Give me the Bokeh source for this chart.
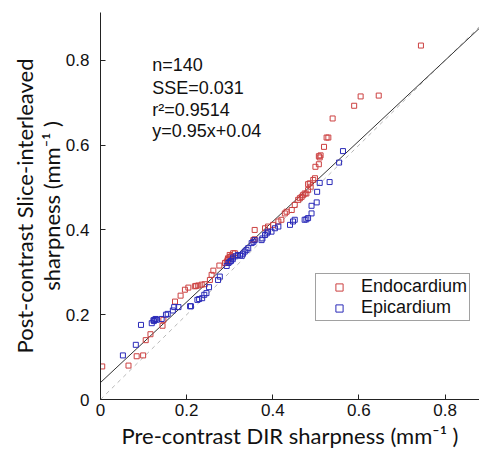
from bokeh.plotting import figure
from bokeh.models import (Range1d, FixedTicker, Legend, LegendItem, ColumnDataSource)
from bokeh.core.properties import value
from bokeh.embed import file_html
from bokeh.resources import INLINE

# ---- data ----
endo_x = [0.004, 0.065, 0.084, 0.099, 0.105, 0.116, 0.144, 0.146, 0.173, 0.186,
          0.196, 0.204, 0.219, 0.222, 0.227, 0.235, 0.242, 0.254, 0.258, 0.262,
          0.276, 0.289, 0.293, 0.295, 0.297, 0.296, 0.300, 0.304, 0.300, 0.308,
          0.312, 0.355, 0.358, 0.358, 0.382, 0.389, 0.401, 0.413, 0.420, 0.428,
          0.432, 0.444, 0.451, 0.459, 0.463, 0.467, 0.470, 0.474, 0.478, 0.482,
          0.482, 0.486, 0.488, 0.494, 0.498, 0.499, 0.507, 0.507, 0.509, 0.511,
          0.519, 0.525, 0.529, 0.539, 0.589, 0.604, 0.646, 0.744]
endo_y = [0.078, 0.080, 0.102, 0.104, 0.140, 0.154, 0.174, 0.188, 0.231, 0.245,
          0.259, 0.264, 0.267, 0.268, 0.269, 0.271, 0.272, 0.282, 0.294, 0.304,
          0.316, 0.322, 0.325, 0.329, 0.331, 0.333, 0.336, 0.338, 0.341, 0.345,
          0.345, 0.376, 0.378, 0.400, 0.404, 0.408, 0.412, 0.420, 0.424, 0.439,
          0.443, 0.447, 0.459, 0.471, 0.475, 0.478, 0.482, 0.486, 0.486, 0.494,
          0.508, 0.510, 0.502, 0.518, 0.522, 0.549, 0.555, 0.574, 0.571, 0.576,
          0.596, 0.618, 0.618, 0.663, 0.693, 0.715, 0.717, 0.835]

epi_x = [0.052, 0.082, 0.094, 0.119, 0.123, 0.124, 0.126, 0.128, 0.131, 0.142,
         0.152, 0.156, 0.168, 0.171, 0.181, 0.208, 0.210, 0.225, 0.229, 0.236,
         0.241, 0.246, 0.252, 0.273, 0.277, 0.293, 0.297, 0.300, 0.303, 0.307,
         0.308, 0.314, 0.319, 0.324, 0.328, 0.331, 0.335, 0.339, 0.343, 0.351,
         0.355, 0.358, 0.374, 0.376, 0.382, 0.386, 0.389, 0.397, 0.405, 0.413,
         0.440, 0.447, 0.451, 0.474, 0.478, 0.482, 0.490, 0.490, 0.502, 0.503,
         0.509, 0.532, 0.554, 0.563]
epi_y = [0.104, 0.129, 0.176, 0.180, 0.187, 0.185, 0.188, 0.190, 0.188, 0.190,
         0.200, 0.202, 0.210, 0.218, 0.218, 0.220, 0.220, 0.235, 0.237, 0.239,
         0.247, 0.251, 0.265, 0.282, 0.290, 0.315, 0.322, 0.325, 0.327, 0.331,
         0.335, 0.338, 0.341, 0.340, 0.339, 0.344, 0.349, 0.353, 0.357, 0.369,
         0.372, 0.376, 0.376, 0.380, 0.388, 0.392, 0.396, 0.396, 0.404, 0.408,
         0.412, 0.420, 0.424, 0.424, 0.425, 0.428, 0.439, 0.457, 0.465, 0.490,
         0.511, 0.513, 0.559, 0.586]

fit_slope = 0.95
fit_intercept = 0.04
line_x = [0.0, 0.9]
fit_y = [fit_slope * v + fit_intercept for v in line_x]
ident_y = list(line_x)

stats_lines = ["n=140", "SSE=0.031", "r\u00b2=0.9514", "y=0.95x+0.04"]
stats_x = [0.12, 0.12, 0.12, 0.12]
stats_y = [0.788, 0.735, 0.683, 0.634]

ticks = [0, 0.2, 0.4, 0.6, 0.8]
tick_labels = ["0", "0.2", "0.4", "0.6", "0.8"]

RED = "#cc4040"
BLUE = "#2a2ab8"
TICK_FONT = "Liberation Sans"

p = figure(width=479, height=451, output_backend="svg", toolbar_location=None,
           x_range=Range1d(0, 0.88), y_range=Range1d(0, 0.913),
           min_border_left=100, min_border_right=0, min_border_top=12,
           min_border_bottom=50)
p.outline_line_color = None
p.xgrid.visible = False
p.ygrid.visible = False
p.background_fill_color = "white"
p.border_fill_color = "white"

# identity (dashed) and fit line
p.line(line_x, ident_y, line_color="#b8b8b8", line_width=1, line_dash="4 4")
p.line(line_x, fit_y, line_color="#333333", line_width=1)

r_endo = p.scatter(endo_x, endo_y, marker="square", size=5, fill_color=None,
                   line_color=RED, line_width=1)
r_epi = p.scatter(epi_x, epi_y, marker="square", size=5, fill_color=None,
                  line_color=BLUE, line_width=1)

# stats text
src = ColumnDataSource(dict(x=stats_x, y=stats_y, t=stats_lines))
p.text("x", "y", text="t", source=src, text_font=value(TICK_FONT),
       text_font_size="18px", text_baseline="middle", text_color="#111111")

for ax, lab in ((p.xaxis[0], "Pre-contrast DIR sharpness (mm\u207b\u00b9 )"),
                (p.yaxis[0], "Post-contrast Slice-interleaved\nsharpness (mm\u207b\u00b9 )")):
    ax.ticker = FixedTicker(ticks=ticks)
    ax.major_label_overrides = {t: l for t, l in zip(ticks, tick_labels)}
    ax.minor_tick_line_color = None
    ax.major_tick_in = 5
    ax.major_tick_out = 0
    ax.axis_line_color = "#222222"
    ax.major_tick_line_color = "#222222"
    ax.major_label_text_font = TICK_FONT
    ax.major_label_text_font_size = "17px"
    ax.major_label_text_color = "#111111"
    ax.axis_label = lab
    ax.axis_label_text_font = "Lato"
    ax.axis_label_text_font_size = "22px"
    ax.axis_label_text_font_style = "normal"
    ax.axis_label_text_color = "#111111"

p.yaxis.axis_label_text_line_height = 1.0
p.xaxis.major_label_standoff = 4
p.yaxis.major_label_standoff = 11
p.xaxis.axis_label_standoff = 3
p.yaxis.axis_label_standoff = -2

legend = Legend(items=[LegendItem(label="Endocardium", renderers=[r_endo]),
                       LegendItem(label="Epicardium", renderers=[r_epi])],
                location=(215, 78), orientation="vertical",
                label_text_font=TICK_FONT, label_text_font_size="18px",
                label_text_color="#111111",
                border_line_color="#444444", border_line_width=1,
                background_fill_alpha=1.0, padding=2, spacing=0,
                label_height=18, glyph_height=18, glyph_width=42,
                label_standoff=1, margin=0)
p.add_layout(legend)

open("out.html", "w").write(file_html(p, INLINE))
